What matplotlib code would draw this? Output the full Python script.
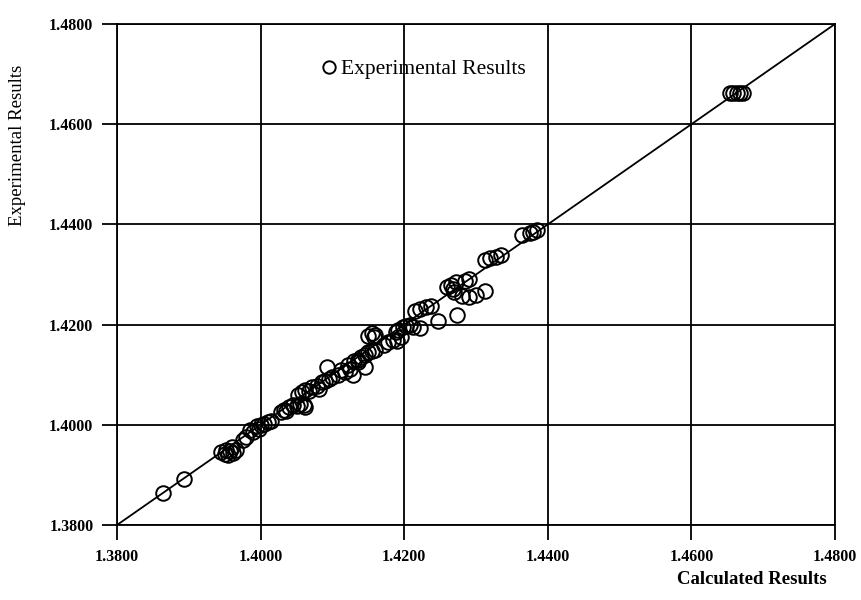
import matplotlib.pyplot as plt
import numpy as np

plt.rcParams['font.family'] = ['Liberation Serif', 'DejaVu Serif']

calc = [1.3864, 1.3893,
        1.3945, 1.3950, 1.3955, 1.3958, 1.3962, 1.3966, 1.3960, 1.3952,
        1.3975, 1.3980, 1.3985, 1.3990, 1.3995, 1.4000, 1.4005, 1.4010, 1.4015, 1.3998,
        1.4028, 1.4032, 1.4035, 1.4040, 1.4045, 1.4050, 1.4055, 1.4060, 1.4062,
        1.4052, 1.4058, 1.4062, 1.4068, 1.4072, 1.4078, 1.4082, 1.4085,
        1.4090, 1.4095, 1.4100, 1.4092,
        1.4108, 1.4112, 1.4118, 1.4122, 1.4125, 1.4130, 1.4135, 1.4128,
        1.4140, 1.4145, 1.4150, 1.4155, 1.4160, 1.4145, 1.4135,
        1.4150, 1.4155, 1.4160, 1.4158,
        1.4172, 1.4178, 1.4185, 1.4190, 1.4195, 1.4188, 1.4192, 1.4198, 1.4202, 1.4208, 1.4212, 1.4222,
        1.4215, 1.4222, 1.4230, 1.4238, 1.4247,
        1.4260, 1.4265, 1.4268, 1.4272, 1.4270, 1.4285, 1.4290, 1.4273, 1.4280, 1.4290, 1.4300, 1.4312,
        1.4312, 1.4320, 1.4328, 1.4335,
        1.4364, 1.4375, 1.4380, 1.4385,
        1.4654, 1.4658, 1.4663, 1.4667, 1.4672]
expt = [1.3864, 1.3892,
        1.3945, 1.3942, 1.3940, 1.3948, 1.3943, 1.3950, 1.3955, 1.3950,
        1.3970, 1.3975, 1.3990, 1.3985, 1.3998, 1.4000, 1.4002, 1.4005, 1.4008, 1.3992,
        1.4025, 1.4030, 1.4028, 1.4035, 1.4040, 1.4038, 1.4042, 1.4040, 1.4035,
        1.4060, 1.4065, 1.4070, 1.4068, 1.4075, 1.4078, 1.4072, 1.4085,
        1.4088, 1.4092, 1.4095, 1.4115,
        1.4100, 1.4110, 1.4105, 1.4120, 1.4112, 1.4128, 1.4130, 1.4100,
        1.4135, 1.4140, 1.4145, 1.4148, 1.4150, 1.4115, 1.4125,
        1.4178, 1.4183, 1.4180, 1.4175,
        1.4160, 1.4165, 1.4170, 1.4168, 1.4175, 1.4185, 1.4190, 1.4195, 1.4198, 1.4200, 1.4195, 1.4193,
        1.4228, 1.4232, 1.4235, 1.4238, 1.4207,
        1.4275, 1.4280, 1.4272, 1.4285, 1.4265, 1.4288, 1.4292, 1.4220, 1.4258, 1.4255, 1.4260, 1.4268,
        1.4328, 1.4332, 1.4335, 1.4338,
        1.4379, 1.4383, 1.4385, 1.4388,
        1.4663, 1.4663, 1.4663, 1.4663, 1.4663]

ticks = [1.38, 1.40, 1.42, 1.44, 1.46, 1.48]
tick_labels = ["1.3800", "1.4000", "1.4200", "1.4400", "1.4600", "1.4800"]

fig = plt.figure(figsize=(8.61, 6.0), dpi=100)
ax = fig.add_axes([117 / 861, 75 / 600, 718 / 861, 501 / 600])

ax.plot([1.38, 1.48], [1.38, 1.48], color='black', lw=1.3, zorder=2)
ax.plot(calc, expt, 'o', mfc='none', mec='black', mew=1.4, ms=10.5,
        label='Experimental Results', zorder=3)

ax.set_xlim(1.38, 1.48)
ax.set_ylim(1.38, 1.48)
ax.set_xticks(ticks)
ax.set_yticks(ticks)
ax.set_xticklabels(tick_labels, fontweight='bold', fontsize=11.5)
ax.set_yticklabels(tick_labels, fontweight='bold', fontsize=11.5)
ax.tick_params(direction='out', length=11, width=1.3, pad=6, colors='black')
ax.grid(True, color='black', lw=1.3)
ax.set_axisbelow(True)
for s in ax.spines.values():
    s.set_linewidth(1.3)

leg = ax.legend(loc='center left', bbox_to_anchor=(0.255, 0.91), frameon=False,
                handletextpad=0.1, handlelength=0.9, markerscale=0.85,
                prop={'family': 'Liberation Serif', 'size': 15.5})

fig.text(18 / 861, 1 - 145 / 600, 'Experimental Results', rotation=90,
         ha='center', va='center', fontsize=13.5)
fig.text(827 / 861, 1 - 580 / 600, 'Calculated Results', ha='right', va='center',
         fontsize=13.5, fontweight='bold')

fig.savefig('out.png', dpi=100)
